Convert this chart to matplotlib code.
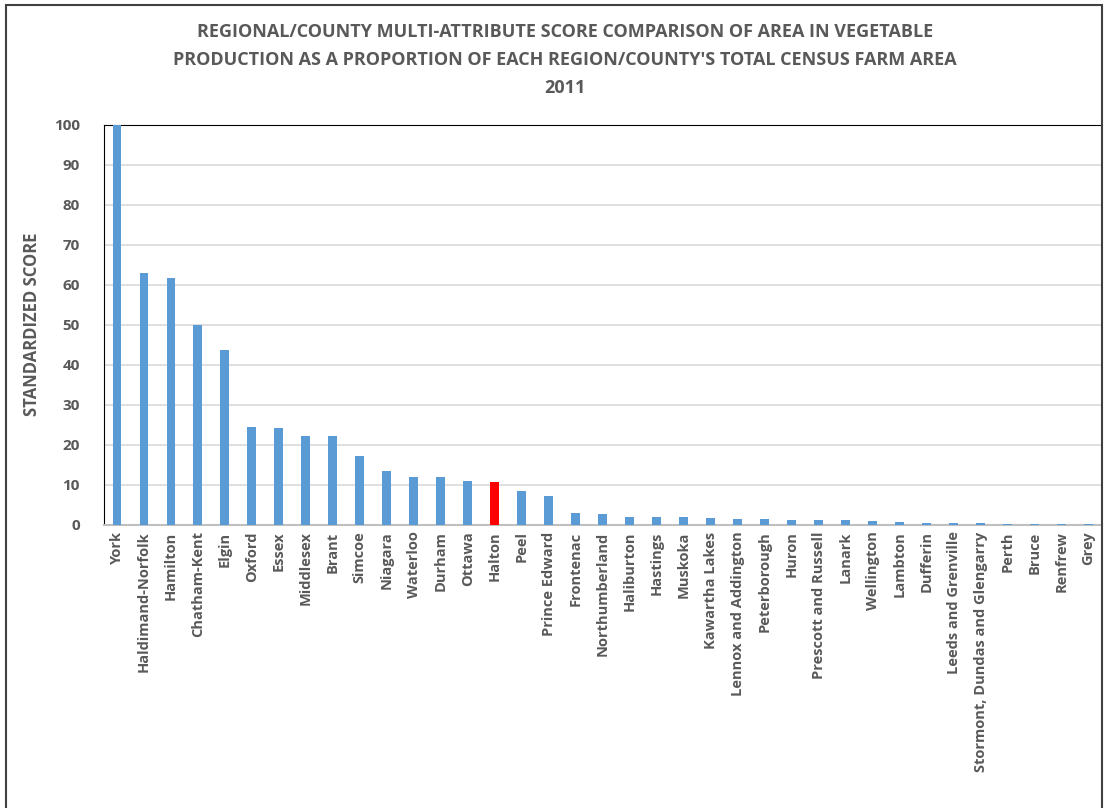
import matplotlib.pyplot as plt
from matplotlib.patches import Rectangle
import numpy as np

# Дані
regions = ['York', 'Haldimand-Norfolk', 'Hamilton', 'Chatham-Kent', 'Elgin', 'Oxford',
           'Essex', 'Middlesex', 'Brant', 'Simcoe', 'Niagara', 'Waterloo', 'Durham',
           'Ottawa', 'Halton', 'Peel', 'Prince Edward', 'Frontenac', 'Northumberland',
           'Haliburton', 'Hastings', 'Muskoka', 'Kawartha Lakes', 'Lennox and Addington',
           'Peterborough', 'Huron', 'Prescott and Russell', 'Lanark', 'Wellington',
           'Lambton', 'Dufferin', 'Leeds and Grenville', 'Stormont, Dundas and Glengarry',
           'Perth', 'Bruce', 'Renfrew', 'Grey']
scores = [100, 62.9, 61.6, 49.8, 43.6, 24.4,
          24.2, 22.1, 22.1, 17.1, 13.4, 11.9, 11.9,
          11.0, 10.6, 8.3, 7.2, 2.8, 2.6,
          2.0, 1.8, 1.8, 1.6, 1.5,
          1.4, 1.25, 1.1, 1.1, 0.8,
          0.6, 0.4, 0.4, 0.4,
          0.1, 0.1, 0.1, 0.05]
highlight = 'Halton'

txt = '#595959'
blue = '#5B9BD5'

plt.rcParams['font.family'] = ['Open Sans', 'DejaVu Sans']

fig = plt.figure(figsize=(11.11, 8.08), dpi=100)
ax = fig.add_axes([103.5 / 1111, 1 - 524.5 / 808, (1102 - 103.5) / 1111, 400 / 808])

x = np.arange(len(regions))
colors = ['#FF0000' if r == highlight else blue for r in regions]
ax.bar(x, scores, width=0.33, color=colors, zorder=3)

ax.set_xlim(-0.5, len(regions) - 0.5)
ax.set_ylim(0, 100)
ax.set_yticks(np.arange(0, 101, 10))
ax.yaxis.grid(True, color='#d9d9d9', linewidth=1.2, zorder=0)
ax.set_xticks(x)
ax.set_xticklabels(regions, rotation=90, fontsize=10.5, fontweight='bold', color=txt)
ax.tick_params(axis='y', labelsize=11, labelcolor=txt, length=0, pad=17)
ax.tick_params(axis='x', length=0, pad=5)
for lbl in ax.get_yticklabels():
    lbl.set_fontweight('bold')

ax.spines['left'].set_color('black')
ax.spines['top'].set_color('black')
ax.spines['right'].set_visible(False)
ax.spines['bottom'].set_color('#bfbfbf')
ax.spines['bottom'].set_linewidth(1.5)

ax.set_ylabel('STANDARDIZED SCORE', fontsize=12, fontweight='bold', color=txt, labelpad=9)

fig.text(565 / 1111, 1 - 60 / 808,
         "REGIONAL/COUNTY MULTI-ATTRIBUTE SCORE COMPARISON OF AREA IN VEGETABLE\n"
         "PRODUCTION AS A PROPORTION OF EACH REGION/COUNTY'S TOTAL CENSUS FARM AREA\n"
         "2011",
         ha='center', va='center', fontsize=13, fontweight='bold', color=txt,
         linespacing=1.72)

# Рамка діаграми
fig.patches.append(Rectangle((6 / 1111, -0.1), (1102 - 6) / 1111, 1.1 - 5 / 808,
                             transform=fig.transFigure, fill=False,
                             edgecolor='#404040', linewidth=1.5))

fig.savefig('out.png', dpi=100)
